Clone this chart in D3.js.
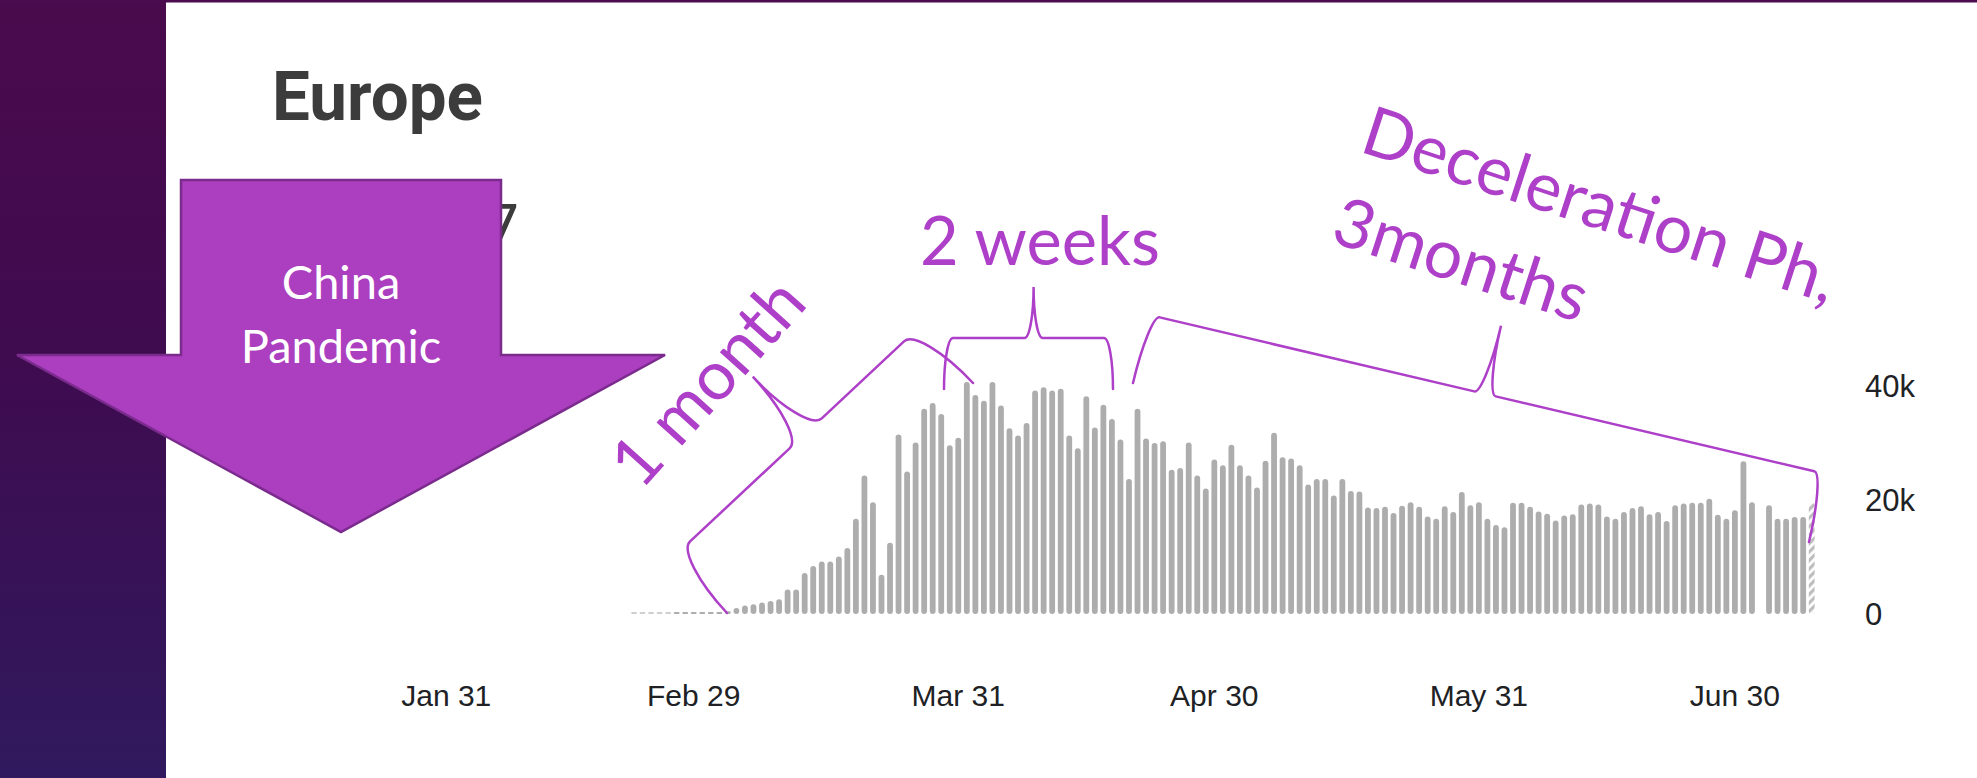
<!DOCTYPE html>
<html><head><meta charset="utf-8">
<script src="https://cdn.jsdelivr.net/npm/d3@7"></script>
<style>html,body{margin:0;padding:0;background:#fff;overflow:hidden}</style>
</head><body><svg id="c" width="1977" height="778"></svg>
<script>
// ---------- data (daily new cases, Europe) ----------
const startDate = "2020-02-22";
const dailyCases = [
  50,50,50,50,100,
  200,200,200,350,300,350,500,
  1050,1500,1700,2000,2300,2600,4300,4300,7200,8400,9200,9200,
  10100,11600,16700,24300,19600,6900,12500,31500,25000,30100,36000,37000,35100,29600,30900,40700,38400,37400,40700,36600,32600,31300,33500,
  39200,39800,39200,39500,31300,29100,38200,32700,36700,34200,30600,23700,36000,30800,30000,30300,25300,25600,30100,24300,22000,27100,26100,
  29700,26100,24300,22200,26900,31800,27500,27300,26100,22700,23700,23700,20800,23700,21600,21500,18700,18600,18800,17700,19000,19600,18800,17100,
  16700,18900,17900,21400,19100,19600,16700,15600,15200,19500,19500,18800,18000,17600,16400,17300,17500,19200,19400,19200,17100,16700,17900,
  18600,18900,17500,17900,16300,19100,19400,19500,19500,20200,17400,16700,18200,26800,19600,null,19100,16700,16700,17000,17000,19500
];
const partialDays = 1; // last day incomplete (hatched)
const xTickDates = ["2020-01-31","2020-02-29","2020-03-31","2020-04-30","2020-05-31","2020-06-30"];
const xTickLabels = ["Jan 31","Feb 29","Mar 31","Apr 30","May 31","Jun 30"];
const yTickValues = [0, 20000, 40000];
const yTickLabels = ["0","20k","40k"];
const titleText = "Europe";
const arrowLines = ["China","Pandemic"];
const notes = {oneMonth:"1 month", twoWeeks:"2 weeks", decel:["Deceleration Ph,","3months"]};

// ---------- setup ----------
const svg = d3.select("#c");
const W = 1977, H = 778;
const parse = d3.timeParse("%Y-%m-%d");
const t0 = parse(startDate);
const days = dailyCases.map((v,i)=>({date:d3.timeDay.offset(t0,i), v, i}));
const x = d3.scaleTime().domain([t0, d3.timeDay.offset(t0, dailyCases.length-1)]).range([634, 1811.7]);
const y = d3.scaleLinear().domain([0, 40000]).range([614, 386]);

const defs = svg.append("defs");
const lg = defs.append("linearGradient").attr("id","bg").attr("x1",0).attr("y1",0).attr("x2",0).attr("y2",1);
lg.append("stop").attr("offset","0%").attr("stop-color","#4a0a4c");
lg.append("stop").attr("offset","50%").attr("stop-color","#3e0c50");
lg.append("stop").attr("offset","100%").attr("stop-color","#30195e");
const pat = defs.append("pattern").attr("id","hatch").attr("patternUnits","userSpaceOnUse")
  .attr("width",6).attr("height",6).attr("patternTransform","rotate(45)");
pat.append("rect").attr("width",6).attr("height",6).attr("fill","#ffffff");
pat.append("rect").attr("width",3.2).attr("height",6).attr("fill","#bdbdbd");

svg.append("rect").attr("width",W).attr("height",H).attr("fill","#ffffff");
svg.append("rect").attr("x",0).attr("y",0).attr("width",166).attr("height",H).attr("fill","url(#bg)");
svg.append("rect").attr("x",0).attr("y",0).attr("width",W).attr("height",2.5).attr("fill","#4a0c4f");

// title and hidden number
svg.append("text").attr("x",272).attr("y",120).text(titleText)
  .attr("font-family","Roboto, Arial, sans-serif").attr("font-weight",700).attr("font-size",68)
  .attr("fill","#3c3c3c").attr("textLength",211).attr("lengthAdjust","spacingAndGlyphs");
svg.append("text").attr("x",519).attr("y",250).attr("text-anchor","end").text("7")
  .attr("font-family","Roboto, Arial, sans-serif").attr("font-size",64).attr("fill","#3c3c3c");

// ---------- bars ----------
const bw = 5.8;
const barsG = svg.append("g");
barsG.selectAll("rect").data(days.filter(d=>d.v!=null)).join("rect")
  .attr("x", d=>x(d.date)-bw/2)
  .attr("y", d=>Math.min(y(d.v), y(0)-2))
  .attr("width", bw)
  .attr("height", d=>Math.max(y(0)-y(d.v), 2))
  .attr("rx", d=>Math.min(bw/2, Math.max(y(0)-y(d.v),2)/2))
  .attr("fill", d=> d.i >= dailyCases.length-partialDays ? "url(#hatch)" : (d.v < 150 ? "#cfcfcf" : "#adadad"));

// ---------- axes ----------
const yAxis = svg.append("g");
yAxis.selectAll("text").data(yTickValues).join("text")
  .attr("x",1865).attr("y",d=>y(d)).attr("dy","0.35em")
  .attr("font-family","Liberation Sans, Arial, sans-serif").attr("font-size",31).attr("fill","#202124")
  .text((d,i)=>yTickLabels[i]);
const xAxis = svg.append("g");
xAxis.selectAll("text").data(xTickDates).join("text")
  .attr("x",d=>x(parse(d))).attr("y",706).attr("text-anchor","middle")
  .attr("font-family","Liberation Sans, Arial, sans-serif").attr("font-size",30).attr("fill","#202124")
  .text((d,i)=>xTickLabels[i]);

// ---------- arrow ----------
const arrowPts = [[181,180],[501,180],[501,355],[665,355],[341,532],[17,355],[181,355]];
svg.append("path").attr("d", d3.line()(arrowPts)+"Z")
  .attr("fill","#ab3fbf").attr("stroke","#7b2a8d").attr("stroke-width",2.5).attr("stroke-linejoin","miter");
svg.append("g").selectAll("text").data(arrowLines).join("text")
  .attr("x",341).attr("y",(d,i)=>299+i*64).attr("text-anchor","middle")
  .attr("font-family","Lato, 'Open Sans', sans-serif").attr("font-size",47).attr("fill","#ffffff")
  .text(d=>d);

// ---------- annotations ----------
const ann = "#ad3fc8";
function braceD(p1,p2,w,r,frac){
  const dx=p2[0]-p1[0], dy=p2[1]-p1[1], L=Math.hypot(dx,dy);
  const e=[dx/L,dy/L], n=[e[1],-e[0]];
  const P=(u,v)=>[p1[0]+u*e[0]+v*n[0], p1[1]+u*e[1]+v*n[1]].map(a=>a.toFixed(1)).join(",");
  const k=0.5523, h=w/2, c=frac*L;
  return "M"+P(0,0)+
    "C"+P(0,k*h)+" "+P(r-k*r,h)+" "+P(r,h)+
    "L"+P(c-r,h)+
    "C"+P(c-r+k*r,h)+" "+P(c,w-k*h)+" "+P(c,w)+
    "C"+P(c,w-k*h)+" "+P(c+r-k*r,h)+" "+P(c+r,h)+
    "L"+P(L-r,h)+
    "C"+P(L-r+k*r,h)+" "+P(L,k*h)+" "+P(L,0);
}
const annG = svg.append("g").attr("fill","none").attr("stroke",ann).attr("stroke-width",2.5).attr("stroke-linecap","round");
annG.append("path").attr("d", braceD([727,613],[973,383],155,22,0.535));
annG.append("path").attr("d", braceD([944,389],[1113,389],102,9,0.53));
annG.append("path").attr("d", braceD([1133,383],[1809,542],140,11,0.497));

const txtAttr = s=>s.attr("font-family","Lato, 'Open Sans', sans-serif").attr("fill",ann);
svg.append("text").attr("transform","translate(725,398) rotate(-48)").attr("text-anchor","middle")
  .attr("font-size",68).text(notes.oneMonth).call(txtAttr);
svg.append("text").attr("x",920).attr("y",265).attr("font-size",68)
  .attr("textLength",240).attr("lengthAdjust","spacingAndGlyphs").text(notes.twoWeeks).call(txtAttr);
const dg = svg.append("g").attr("transform","translate(1358,151) rotate(18)");
dg.selectAll("text").data(notes.decel).join("text").attr("x",0).attr("y",(d,i)=>i*95)
  .attr("font-size",68).text(d=>d).call(txtAttr);
</script></body></html>
